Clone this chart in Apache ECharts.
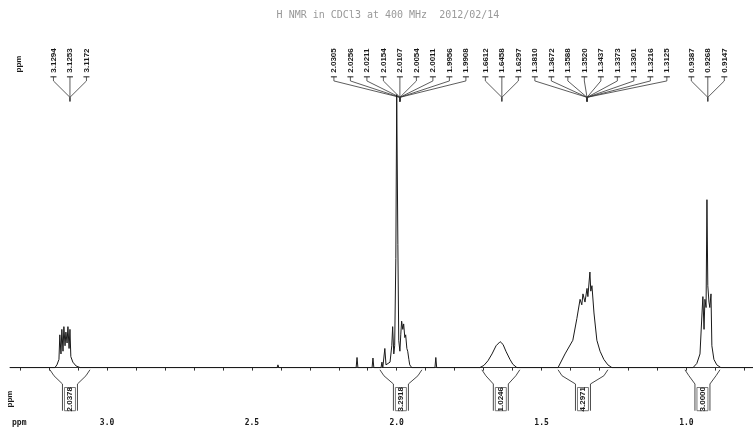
<!DOCTYPE html>
<html>
<head>
<meta charset="utf-8">
<script src="https://cdn.jsdelivr.net/npm/echarts@6/dist/echarts.min.js"></script>
<style>
  html, body { margin: 0; padding: 0; background: #fff; }
  #chart { width: 753px; height: 434px; }
</style>
</head>
<body>
<div id="chart"></div>
<script>
// spectrum header
const titleText = 'H NMR in CDCl3 at 400 MHz  2012/02/14'

// chemical shift axis (ppm), ticks and labels
const ppmMin = 0.77
const ppmMax = 3.335
const tickValues = [3.3, 3.2, 3.1, 3.0, 2.9, 2.8, 2.7, 2.6, 2.5, 2.4, 2.3, 2.2, 2.1, 2.0,
  1.9, 1.8, 1.7, 1.6, 1.5, 1.4, 1.3, 1.2, 1.1, 1.0, 0.9, 0.8]
const tickLabels = [3.0, 2.5, 2.0, 1.5, 1.0]

// spectrum trace, [ppm, intensity]
const peakNear312 = [
  [3.180, 0], [3.173, 1], [3.166, 3], [3.163, 12], [3.159, 5], [3.156, 14], [3.152, 6],
  [3.149, 15], [3.145, 8], [3.142, 13], [3.138, 9], [3.135, 15], [3.131, 7], [3.128, 14],
  [3.125, 4], [3.118, 2], [3.107, 0.6], [3.093, 0]
]
const smallBumps = [
  [2.413, 0], [2.410, 1], [2.407, 0],
  [2.140, 0], [2.137, 3.7], [2.134, 0],
  [2.085, 0], [2.082, 3.5], [2.079, 0],
  [2.054, 0], [2.051, 2], [2.048, 0]
]
const peakNear200 = [
  [2.046, 0], [2.041, 7], [2.037, 1], [2.023, 2], [2.017, 8], [2.014, 15], [2.010, 5],
  [2.007, 8], [2.003, 40], [2.000, 100], [1.996, 45], [1.993, 10], [1.989, 6], [1.986, 12],
  [1.983, 17], [1.979, 14], [1.976, 16], [1.972, 11], [1.969, 12], [1.965, 7], [1.962, 6],
  [1.958, 3], [1.955, 1], [1.948, 0],
  [1.868, 0], [1.865, 3.7], [1.862, 0]
]
const peakNear164 = [
  [1.713, 0], [1.699, 0.8], [1.685, 2.5], [1.671, 5], [1.657, 8], [1.643, 9.5],
  [1.633, 8.5], [1.623, 6], [1.609, 3], [1.599, 1.2], [1.585, 0]
]
const peakNear133 = [
  [1.443, 0], [1.419, 5], [1.392, 10], [1.378, 18], [1.367, 25], [1.361, 23], [1.357, 27],
  [1.350, 24], [1.343, 29], [1.340, 26], [1.333, 35], [1.330, 28], [1.326, 30], [1.319, 20],
  [1.309, 10], [1.298, 6], [1.285, 3], [1.271, 1], [1.257, 0]
]
const peakNear092 = [
  [0.977, 0], [0.964, 1.5], [0.953, 5], [0.946, 20], [0.943, 26], [0.939, 14], [0.936, 25],
  [0.932, 22], [0.929, 61.5], [0.926, 30], [0.922, 24], [0.919, 22], [0.915, 27], [0.912, 8],
  [0.905, 3], [0.895, 1], [0.881, 0]
]

// peak picking labels, grouped by multiplet
const labelGroups = [
  [3.1294, 3.1253, 3.1172],
  [2.0305, 2.0256, 2.0211, 2.0154, 2.0107, 2.0054, 2.0011, 1.9956, 1.9908],
  [1.6612, 1.6458, 1.6297],
  [1.3810, 1.3672, 1.3588, 1.3520, 1.3437, 1.3373, 1.3301, 1.3216, 1.3125],
  [0.9387, 0.9268, 0.9147]
]
const groupPeakPpm = [3.128, 1.989, 1.637, 1.343, 0.926]

// integrals
const integralFrom = [3.197, 2.058, 1.706, 1.443, 1.005]
const integralTo = [3.059, 1.913, 1.575, 1.271, 0.884]
const integralValues = ['2.0378', '3.2918', '1.0246', '4.2971', '3.0000']

const spectrum = [[ppmMax, 0]]
  .concat(peakNear312, smallBumps, peakNear200, peakNear164, peakNear133, peakNear092)
  .concat([[ppmMin, 0]])

const labelItems = []
labelGroups.forEach((g, gi) => g.forEach((v, i) => labelItems.push([v, 112, gi, i])))

const ink = '#1a1a1a'
const labelGap = 16.5

// spread label x positions round their multiplet, then push apart
function labelPositions(api) {
  const xs = []
  labelGroups.forEach((g, gi) => {
    const cx = api.coord([groupPeakPpm[gi], 0])[0]
    g.forEach((v, i) => xs.push(cx + (i - (g.length - 1) / 2) * labelGap))
  })
  for (let k = 1; k < xs.length; k++) {
    if (xs[k] < xs[k - 1] + labelGap) xs[k] = xs[k - 1] + labelGap
  }
  return xs
}

function renderLabel(params, api) {
  const k = params.dataIndex
  const item = labelItems[k]
  const lx = labelPositions(api)[k]
  const px = api.coord([groupPeakPpm[item[2]], 0])[0]
  const yText = api.coord([0, 112.5])[1]
  const yDash = api.coord([0, 106.5])[1]
  const yStub = api.coord([0, 105])[1]
  const yDiag = api.coord([0, 99])[1]
  const yEnd = api.coord([0, 97.5])[1]
  return {
    type: 'group',
    children: [
      {
        type: 'text', x: lx, y: yText, rotation: Math.PI / 2,
        style: { text: item[0].toFixed(4), fill: ink, font: 'bold 8px "Liberation Sans"', align: 'center', verticalAlign: 'middle' }
      },
      { type: 'line', shape: { x1: lx - 3, y1: yDash, x2: lx + 3, y2: yDash }, style: { stroke: ink, lineWidth: 1 } },
      {
        type: 'polyline', shape: { points: [[lx, yDash], [lx, yStub], [px, yDiag], [px, yEnd]] },
        style: { stroke: '#333', fill: null, lineWidth: 0.8 }
      }
    ]
  }
}

function renderIntegral(params, api) {
  const i = params.dataIndex
  const xl = api.coord([integralFrom[i], 0])[0]
  const xr = api.coord([integralTo[i], 0])[0]
  const xc = (xl + xr) / 2
  const bw = 15
  const yTop = api.coord([0, -0.8])[1]
  const yBend = api.coord([0, -3])[1]
  const yBox = api.coord([0, -6])[1]
  const yInner = api.coord([0, -7.3])[1]
  const yBot = api.coord([0, -15.8])[1]
  const yTxt = api.coord([0, -11.6])[1]
  const st = { stroke: '#333', fill: null, lineWidth: 0.9 }
  return {
    type: 'group',
    children: [
      { type: 'polyline', shape: { points: [[xl, yTop], [xl + 4, yBend], [xc - bw / 2, yBox], [xc - bw / 2, yBot]] }, style: st },
      { type: 'polyline', shape: { points: [[xr, yTop], [xr - 4, yBend], [xc + bw / 2, yBox], [xc + bw / 2, yBot]] }, style: st },
      { type: 'rect', shape: { x: xc - bw / 2 + 2, y: yInner, width: bw - 4, height: yBot - yInner }, style: { stroke: '#555', fill: '#fff', lineWidth: 0.8 } },
      {
        type: 'text', x: xc, y: yTxt, rotation: Math.PI / 2,
        style: { text: integralValues[i], fill: ink, font: 'bold 8px "Liberation Sans"', align: 'center', verticalAlign: 'middle' }
      }
    ]
  }
}

const chart = echarts.init(document.getElementById('chart'))
chart.setOption({
  animation: false,
  backgroundColor: '#fff',
  grid: { left: 10, right: 0, top: 40, bottom: 20 },
  xAxis: {
    type: 'value',
    inverse: true,
    min: ppmMin,
    max: ppmMax,
    splitLine: { show: false },
    axisLine: { lineStyle: { color: '#333', width: 1 } },
    axisTick: { length: 3, customValues: tickValues, lineStyle: { color: '#333' } },
    axisLabel: {
      customValues: tickLabels,
      formatter: v => v.toFixed(1),
      color: ink,
      fontSize: 8,
      fontWeight: 'bold',
      fontFamily: 'DejaVu Sans Mono',
      margin: 5
    }
  },
  yAxis: { type: 'value', min: -17, max: 120, show: false },
  graphic: [
    { type: 'text', x: 388, y: 15, style: { text: titleText, fill: '#999', font: '10px "DejaVu Sans Mono"', align: 'center', verticalAlign: 'middle' } },
    { type: 'text', x: 12, y: 423, style: { text: 'ppm', fill: ink, font: 'bold 8px "DejaVu Sans Mono"', verticalAlign: 'middle' } },
    { type: 'text', x: 10, y: 399, rotation: Math.PI / 2, style: { text: 'ppm', fill: ink, font: 'bold 8px "Liberation Sans"', align: 'center', verticalAlign: 'middle' } },
    { type: 'text', x: 19, y: 64, rotation: Math.PI / 2, style: { text: 'ppm', fill: ink, font: 'bold 8px "Liberation Sans"', align: 'center', verticalAlign: 'middle' } }
  ],
  series: [
    {
      type: 'line',
      data: spectrum,
      showSymbol: false,
      lineStyle: { color: ink, width: 1 },
      z: 3
    },
    {
      type: 'custom',
      data: labelItems,
      encode: { x: 0, y: 1 },
      clip: false,
      renderItem: renderLabel,
      z: 2
    },
    {
      type: 'custom',
      data: integralValues.map((v, i) => [integralFrom[i], -10]),
      encode: { x: 0, y: 1 },
      clip: false,
      renderItem: renderIntegral,
      z: 2
    }
  ]
})
</script>
</body>
</html>
